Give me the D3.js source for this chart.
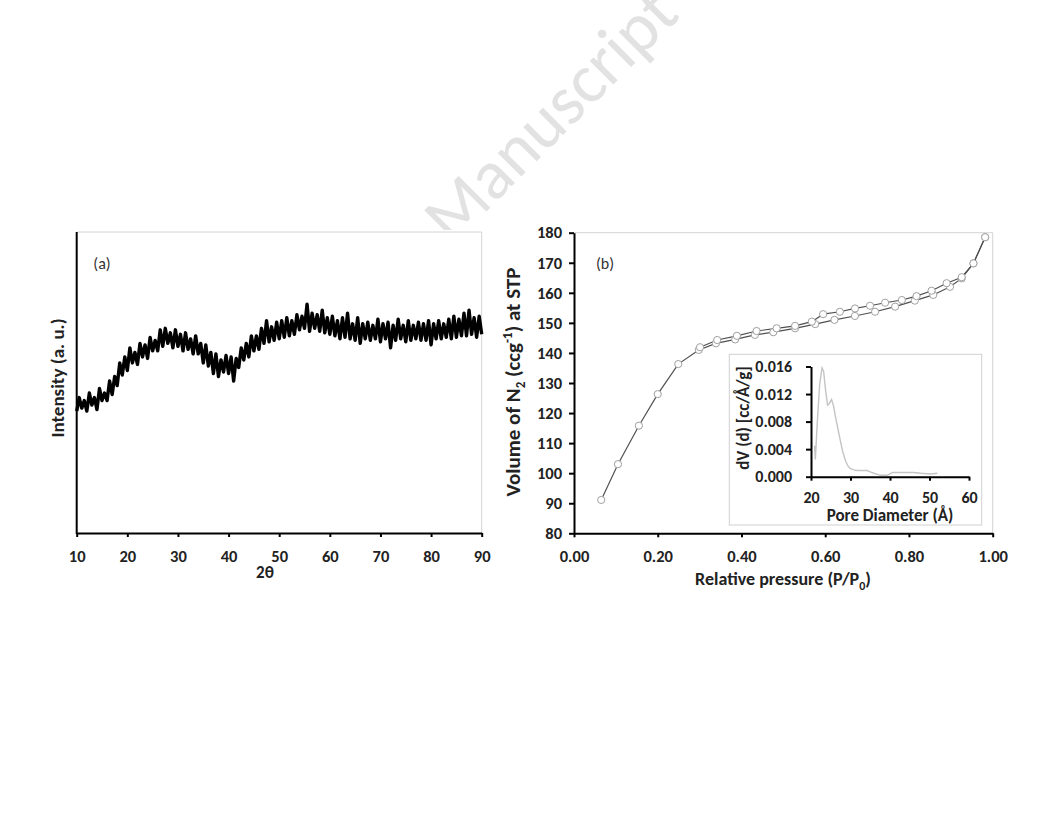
<!DOCTYPE html>
<html><head><meta charset="utf-8">
<script src="https://cdn.jsdelivr.net/npm/d3@7"></script>
<style>
body{margin:0;background:#fff;}
svg{display:block;}
text{font-family:Carlito, Lato, "Open Sans", sans-serif;}
</style></head>
<body><svg id="c" width="1056" height="816"></svg>
<script>
// ---------- DATA ----------
// (a) XRD pattern, 2θ from 10 to 90 in 0.5° steps
const xrdTheta = d3.range(10, 90.001, 0.5);
const xrdIntensity = [
40.5,45,41.5,44,40.5,46.5,42.5,45,41,48,44,46.5,44,50.5,46,52,49,56.5,52.5,58.5,
54,61.5,56.5,60,56,63,58.5,62.5,58,65,60.5,64,60.5,67.5,62,68,63,66.5,61.5,67.5,
62,66,60.5,66.5,61,64.5,59.5,65.5,59.5,63,56.5,62.5,55.5,60,53,59.5,52,57.5,53.5,59,
53,58.5,50.5,58,55,61.5,57.5,63,58.5,65.5,60.5,65.5,61,68,63,70.5,63.5,68.5,64,70,
64.5,70.5,65,71.5,65.5,70.5,66,72.5,67.5,72,68,76,67,73,68,72.5,67,74,66.5,71.5,
66,72,65.5,70.5,64.5,71.5,65,73,64.5,69.5,64,71.5,63,69.5,64.5,70,64,69,64.5,71,
63.5,69.5,64.5,70,61.5,69,64,71,64.5,69,63.5,70.5,64,69,64.5,70,64,69.5,64,70.5,
62.5,69.5,64.5,70.5,64.5,69.5,65,71,64.5,72,65,71,65.5,73,65.5,74,66,71.5,65,72,
66];
const xrdXTicks = [10,20,30,40,50,60,70,80,90];

// (b) N2 isotherm
const adsP = [0.065,0.105,0.155,0.200,0.249,0.298,0.339,0.385,0.432,0.476,0.528,0.576,0.622,0.671,0.719,0.767,0.814,0.858,0.898,0.926,0.954,0.982];
const adsV = [91.1,103,115.8,126.3,136.3,141,143.2,144.5,146,146.9,148.2,149.6,151,152.3,153.7,155.4,157.4,159.3,162,164.8,169.8,178.5];
const desP = [0.982,0.954,0.926,0.890,0.854,0.818,0.783,0.743,0.707,0.671,0.635,0.595,0.568,0.528,0.484,0.436,0.389,0.342,0.301];
const desV = [178.5,169.8,165.2,163.2,160.7,158.9,157.6,156.7,155.7,154.8,153.7,152.9,150.4,149.0,148.2,147.3,145.7,144.3,141.9];
const isoXTicks = [0,0.2,0.4,0.6,0.8,1.0];
const isoYTicks = [80,90,100,110,120,130,140,150,160,170,180];

// inset: pore size distribution
const poreD = [20.9,21.1,21.6,22.2,22.8,23.2,23.7,24.2,24.6,25.2,25.7,26.2,26.8,27.4,28.0,28.7,29.3,29.9,30.8,31.7,33.0,34.2,35.0,35.9,37.6,39.3,40.6,42.5,44.4,46.0,47.8,50.3,52.0];
const poreDV = [0.0045,0.0025,0.0080,0.0135,0.0158,0.0153,0.0125,0.0104,0.0106,0.0112,0.0103,0.0087,0.0070,0.0053,0.0037,0.0024,0.0016,0.0012,0.0010,0.0009,0.0009,0.0009,0.0007,0.0005,0.0002,0.0002,0.0006,0.0006,0.0006,0.0006,0.0005,0.0004,0.0005];
const insetXTicks = [20,30,40,50,60];
const insetYTicks = [0,0.004,0.008,0.012,0.016];

// ---------- DRAW ----------
const svg = d3.select("#c");
const TXT = "#222";

// watermark
svg.append("text")
  .attr("transform","translate(452,246) rotate(-45)")
  .attr("font-size",70).attr("fill","#e2e2e2")
  .text("Manuscript");
// chart background covering watermark
svg.append("rect").attr("x",0).attr("y",230).attr("width",1056).attr("height",400).attr("fill","#fff");

function styleAxis(g, fs){
  g.select(".domain").attr("stroke","#000").attr("stroke-width",2);
  g.selectAll(".tick line").attr("stroke","#000").attr("stroke-width",2);
  g.selectAll(".tick text").attr("fill",TXT).attr("font-weight","bold").attr("font-size",fs)
    .attr("font-family","Carlito, Lato, sans-serif");
}

// ----- Panel (a)
const ax = d3.scaleLinear().domain([10,90]).range([76.7,481.7]);
const ay = d3.scaleLinear().domain([0,100]).range([533,232]);
svg.append("path").attr("d",`M${ax(10)},${ay(100)}H${ax(90)}V${ay(0)}`)
  .attr("fill","none").attr("stroke","#d4d4d4").attr("stroke-width",1);
svg.append("path").datum(xrdTheta.map((t,i)=>[t,xrdIntensity[i]]))
  .attr("d",d3.line().x(d=>ax(d[0])).y(d=>ay(d[1])))
  .attr("fill","none").attr("stroke","#000").attr("stroke-width",3.4).attr("stroke-linejoin","round");
const gax = svg.append("g").attr("transform",`translate(0,${ay(0)})`)
  .call(d3.axisBottom(ax).tickValues(xrdXTicks).tickSize(4).tickPadding(13).tickSizeOuter(0));
styleAxis(gax,16.5);
svg.append("line").attr("x1",ax(10)).attr("x2",ax(10)).attr("y1",ay(100)).attr("y2",ay(0)+1)
  .attr("stroke","#000").attr("stroke-width",2);
svg.append("text").attr("x",265).attr("y",578).attr("text-anchor","middle")
  .attr("font-size",17).attr("font-weight","bold").attr("fill",TXT).text("2θ");
svg.append("text").attr("transform","translate(64,378) rotate(-90)").attr("text-anchor","middle")
  .attr("font-size",19).attr("font-weight","bold").attr("fill",TXT).text("Intensity (a. u.)");
svg.append("text").attr("x",102).attr("y",269).attr("text-anchor","middle")
  .attr("font-size",16).attr("fill","#333").text("(a)");

// ----- Panel (b)
const bx = d3.scaleLinear().domain([0,1]).range([574,992.7]);
const by = d3.scaleLinear().domain([80,180]).range([533.3,232.7]);
svg.append("path").attr("d",`M${bx(0)},${by(180)}H${bx(1)}V${by(80)}`)
  .attr("fill","none").attr("stroke","#d4d4d4").attr("stroke-width",1);
const gbx = svg.append("g").attr("transform",`translate(0,${by(80)})`)
  .call(d3.axisBottom(bx).tickValues(isoXTicks).tickFormat(d3.format(".2f")).tickSize(4).tickPadding(13).tickSizeOuter(0));
styleAxis(gbx,16.5);
const gby = svg.append("g").attr("transform",`translate(${bx(0)},0)`)
  .call(d3.axisLeft(by).tickValues(isoYTicks).tickSize(5).tickPadding(7).tickSizeOuter(0));
styleAxis(gby,16.5);

const isoLine = d3.line().x(d=>bx(d[0])).y(d=>by(d[1]));
const ads = adsP.map((p,i)=>[p,adsV[i]]);
const des = desP.map((p,i)=>[p,desV[i]]);
[ads,des].forEach(s=>{
  svg.append("path").datum(s).attr("d",isoLine).attr("fill","none")
    .attr("stroke","#505050").attr("stroke-width",1.2);
});
[ads,des].forEach(s=>{
  svg.append("g").selectAll("circle").data(s).join("circle")
    .attr("cx",d=>bx(d[0])).attr("cy",d=>by(d[1])).attr("r",3.6)
    .attr("fill","#fff").attr("stroke","#a0a0a0").attr("stroke-width",1);
});
svg.append("text").attr("x",605).attr("y",269).attr("text-anchor","middle")
  .attr("font-size",16).attr("fill","#333").text("(b)");
svg.append("text").attr("x",783).attr("y",585).attr("text-anchor","middle")
  .attr("font-size",18).attr("font-weight","bold").attr("fill",TXT)
  .call(t=>{t.append("tspan").text("Relative pressure (P/P");
           t.append("tspan").attr("font-size",12).attr("dy",5).text("0");
           t.append("tspan").attr("dy",-5).text(")");});
svg.append("text").attr("transform","translate(520,382) rotate(-90)").attr("text-anchor","middle")
  .attr("font-size",21).attr("font-weight","bold").attr("fill",TXT)
  .call(t=>{t.append("tspan").text("Volume of N");
           t.append("tspan").attr("font-size",13).attr("dy",5).text("2");
           t.append("tspan").attr("dy",-5).text(" (ccg");
           t.append("tspan").attr("font-size",13).attr("dy",-8).text("-1");
           t.append("tspan").attr("dy",8).text(") at STP");});

// ----- Inset
svg.append("rect").attr("x",729.3).attr("y",354.3).attr("width",252.4).attr("height",170.7)
  .attr("fill","#fff").attr("stroke","#d0d0d0").attr("stroke-width",1);
const ix = d3.scaleLinear().domain([20,60]).range([811,969]);
const iy = d3.scaleLinear().domain([0,0.016]).range([476.7,366.5]);
svg.append("path").datum(poreD.map((d,i)=>[d,poreDV[i]]))
  .attr("d",d3.line().x(d=>ix(d[0])).y(d=>iy(d[1])))
  .attr("fill","none").attr("stroke","#c4c4c4").attr("stroke-width",1.4);
const gix = svg.append("g").attr("transform",`translate(0,${iy(0)})`)
  .call(d3.axisBottom(ix).tickValues(insetXTicks).tickSize(4).tickPadding(11).tickSizeOuter(0));
styleAxis(gix,16);
const giy = svg.append("g").attr("transform",`translate(${ix(20)},0)`)
  .call(d3.axisLeft(iy).tickValues(insetYTicks).tickFormat(d3.format(".3f")).tickSize(5).tickPadding(14).tickSizeOuter(0));
styleAxis(giy,16);
svg.append("text").attr("x",890).attr("y",521).attr("text-anchor","middle")
  .attr("font-size",17).attr("font-weight","bold").attr("fill",TXT).text("Pore Diameter (Å)");
svg.append("text").attr("transform","translate(749,418) rotate(-90)").attr("text-anchor","middle")
  .attr("font-size",17).attr("font-weight","bold").attr("fill",TXT).text("dV (d) [cc/Å/g]");
</script></body></html>
